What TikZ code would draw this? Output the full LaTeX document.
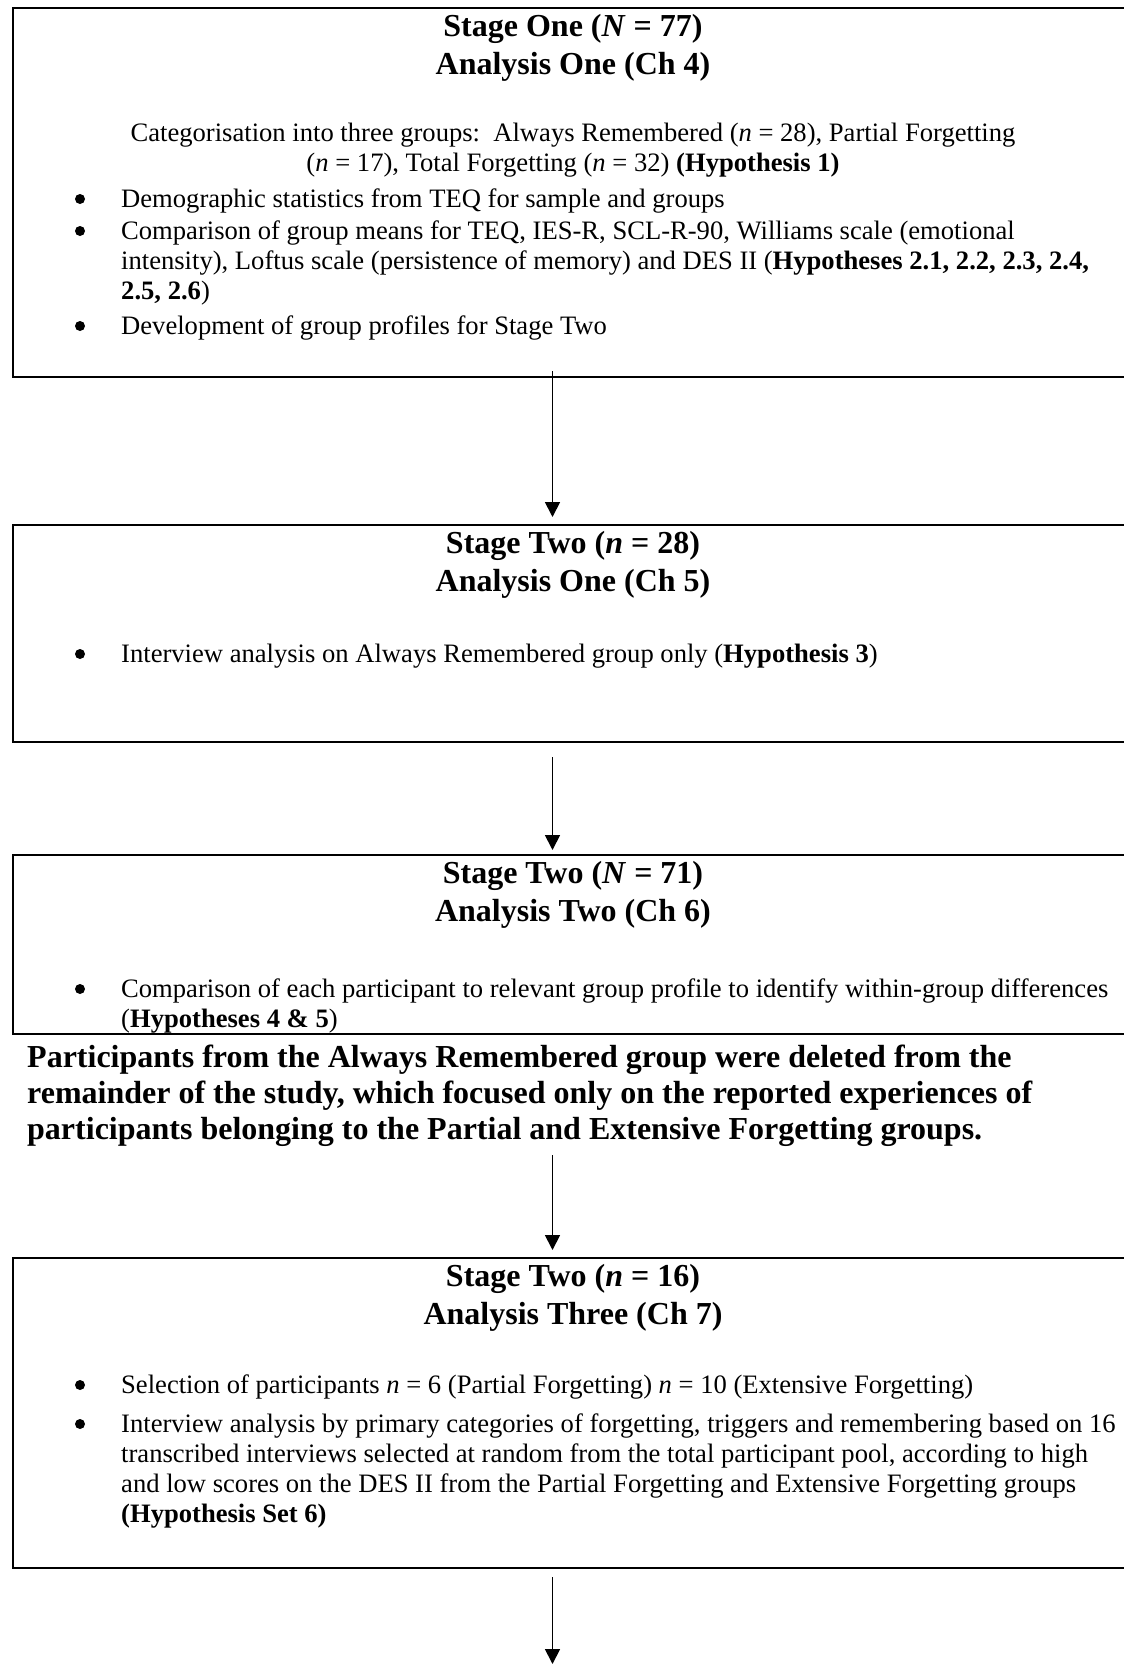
\documentclass[tikz,border=0pt]{standalone}
\usepackage{fontspec}
\setmainfont{Liberation Serif}
\usetikzlibrary{arrows.meta,calc}

\tikzset{
  stagebox/.style={draw=black, line width=2.4pt, rectangle, inner sep=0pt,
    anchor=north west, minimum width=1135pt},
  heading/.style={anchor=base, inner sep=0pt, font=\fontsize{32}{38}\selectfont\bfseries},
  notebold/.style={anchor=base west, inner sep=0pt, font=\fontsize{32}{36}\selectfont\bfseries},
  centreline/.style={anchor=base, inner sep=0pt, font=\fontsize{26.6}{31}\selectfont},
  bodyline/.style={anchor=base west, inner sep=0pt, font=\fontsize{26.6}{31}\selectfont},
  bulletdot/.style={circle, fill=black, inner sep=0pt, minimum size=10pt},
  flow/.style={line width=1.8pt, -{Triangle[width=15pt,length=15pt]}}
}

\begin{document}
\begin{tikzpicture}[x=1pt, y=-1pt]
\clip (0,0) rectangle (1124,1665);
\fill[white] (0,0) rectangle (1124,1665);

% ---- Stage One box ----
\node[stagebox, minimum height=369pt] (box1) at (11.5,7) {};
\node[heading] (t1a) at (573,36) {Stage One (\textit{N} = 77)};
\node[heading] (t1b) at (573,74) {Analysis One (Ch 4)};
\node[centreline] (c1a) at (573,141) {Categorisation into three groups:\ \ Always Remembered (\textit{n} = 28), Partial Forgetting};
\node[centreline] (c1b) at (573,171) {(\textit{n} = 17), Total Forgetting (\textit{n} = 32) \textbf{(Hypothesis 1)}};
\node[bulletdot] (d1a) at (80,199) {};
\node[bodyline] (l1a) at (121,207) {Demographic statistics from TEQ for sample and groups};
\node[bulletdot] (d1b) at (80,231) {};
\node[bodyline] (l1b) at (121,239) {Comparison of group means for TEQ, IES-R, SCL-R-90, Williams scale (emotional};
\node[bodyline] (l1c) at (121,269) {intensity), Loftus scale (persistence of memory) and DES II (\textbf{Hypotheses 2.1, 2.2, 2.3, 2.4,}};
\node[bodyline] (l1d) at (121,299) {\textbf{2.5, 2.6})};
\node[bulletdot] (d1c) at (80,326) {};
\node[bodyline] (l1e) at (121,334) {Development of group profiles for Stage Two};

% ---- Stage Two, Analysis One box ----
\node[stagebox, minimum height=217pt] (box2) at (11.5,524) {};
\node[heading] (t2a) at (573,553) {Stage Two (\textit{n} = 28)};
\node[heading] (t2b) at (573,591) {Analysis One (Ch 5)};
\node[bulletdot] (d2a) at (80,654) {};
\node[bodyline] (l2a) at (121,662) {Interview analysis on Always Remembered group only (\textbf{Hypothesis 3})};

% ---- Stage Two, Analysis Two box ----
\node[stagebox, minimum height=179pt] (box3) at (11.5,854) {};
\node[heading] (t3a) at (573,883) {Stage Two (\textit{N} = 71)};
\node[heading] (t3b) at (573,921) {Analysis Two (Ch 6)};
\node[bulletdot] (d3a) at (80,989) {};
\node[bodyline] (l3a) at (121,997) {Comparison of each participant to relevant group profile to identify within-group differences};
\node[bodyline] (l3b) at (121,1027) {(\textbf{Hypotheses 4 \& 5})};

% ---- note between the boxes ----
\node[notebold] (p1) at (27,1067) {Participants from the Always Remembered group were deleted from the};
\node[notebold] (p2) at (27,1103) {remainder of the study, which focused only on the reported experiences of};
\node[notebold] (p3) at (27,1139) {participants belonging to the Partial and Extensive Forgetting groups.};

% ---- Stage Two, Analysis Three box ----
\node[stagebox, minimum height=310pt] (box4) at (11.5,1257) {};
\node[heading] (t4a) at (573,1286) {Stage Two (\textit{n} = 16)};
\node[heading] (t4b) at (573,1324) {Analysis Three (Ch 7)};
\node[bulletdot] (d4a) at (80,1385) {};
\node[bodyline] (l4a) at (121,1393) {Selection of participants \textit{n} = 6 (Partial Forgetting) \textit{n} = 10 (Extensive Forgetting)};
\node[bulletdot] (d4b) at (80,1424) {};
\node[bodyline] (l4b) at (121,1432) {Interview analysis by primary categories of forgetting, triggers and remembering based on 16};
\node[bodyline] (l4c) at (121,1462) {transcribed interviews selected at random from the total participant pool, according to high};
\node[bodyline] (l4d) at (121,1492) {and low scores on the DES II from the Partial Forgetting and Extensive Forgetting groups};
\node[bodyline] (l4e) at (121,1522) {\textbf{(Hypothesis Set 6)}};

% ---- connectors ----
\coordinate (ax) at (552.5,0);
\coordinate (endpt) at (552.5,1664);
\draw[flow] ($(box1.south -| ax)+(0pt,7pt)$) -- ($(box2.north -| ax)+(0pt,7pt)$);
\draw[flow] ($(box2.south -| ax)+(0pt,-14pt)$) -- ($(box3.north -| ax)+(0pt,4pt)$);
\draw[flow] ($(p3.south -| ax)+(0pt,-9pt)$) -- ($(box4.north -| ax)+(0pt,7pt)$);
\draw[flow] ($(box4.south -| ax)+(0pt,-8pt)$) -- (endpt);
\end{tikzpicture}
\end{document}
